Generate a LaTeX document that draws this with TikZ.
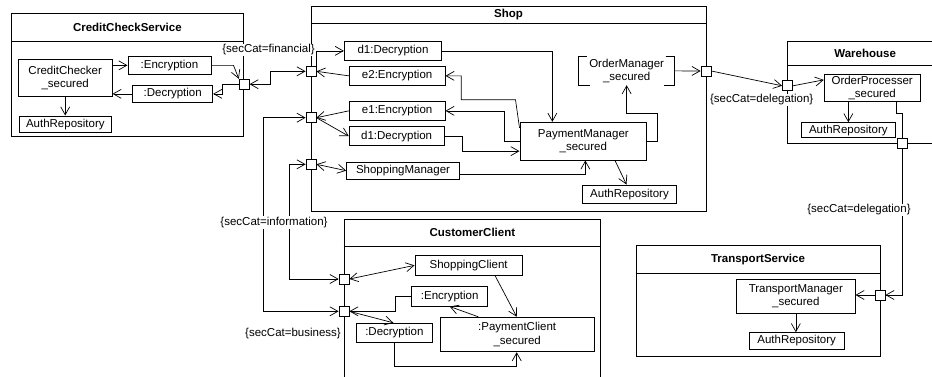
\documentclass[tikz,border=0pt]{standalone}
\usepackage{fontspec}
\setmainfont{Liberation Sans}
\usetikzlibrary{arrows.meta}
\begin{document}
\begin{tikzpicture}[x=1pt,y=-1pt,
  every node/.style={font=\fontsize{11.5}{13.5}\selectfont},
  comp/.style={draw, line width=1pt, inner sep=0pt, align=center},
  nobox/.style={inner sep=0pt, align=center},
  ctr/.style={draw, line width=1pt, inner sep=0pt},
  ttl/.style={font=\fontsize{11.5}{13.5}\selectfont\bfseries},
  port/.style={draw, fill=white, line width=0.8pt, minimum size=10pt, inner sep=0pt},
  lbl/.style={fill=white, inner sep=0.8pt},
  conn/.style={line width=0.7pt},
  boxline/.style={line width=1pt},
  arr/.style={conn, -{Straight Barb[length=8pt,width=9pt]}},
  dbl/.style={conn, {Straight Barb[length=8pt,width=9pt]}-{Straight Barb[length=8pt,width=9pt]}},
]
\useasboundingbox (0,0) rectangle (932,376);

% ---------- containers ----------
\node[ctr, minimum width=231.3pt, minimum height=123.4pt] (ccs) at (127.35,75) {};
\draw[boxline] ([yshift=-28.4pt]ccs.north west) -- ([yshift=-28.4pt]ccs.north east);
\node[ttl] (ccsT) at ([yshift=-14.2pt]ccs.north) {CreditCheckService};

\node[ctr, minimum width=395pt, minimum height=205pt] (shop) at (508.5,108.5) {};
\draw[boxline] ([yshift=-18pt]shop.north west) -- ([yshift=-18pt]shop.north east);
\node[ttl] (shopT) at ([yshift=-9pt]shop.north) {Shop};

\node[ctr, minimum width=155.7pt, minimum height=101.6pt] (wh) at (865.15,92.5) {};
\draw[boxline] ([yshift=-24.3pt]wh.north west) -- ([yshift=-24.3pt]wh.north east);
\node[ttl] (whT) at ([yshift=-12.4pt]wh.north) {Warehouse};

\node[ctr, minimum width=244pt, minimum height=110.3pt] (ts) at (758,300.85) {};
\draw[boxline] ([yshift=-28.6pt]ts.north west) -- ([yshift=-28.6pt]ts.north east);
\node[ttl] (tsT) at ([yshift=-14.3pt]ts.north) {TransportService};

\node[ctr, minimum width=256.7pt, minimum height=200.7pt] (cc) at (472.35,319.65) {};
\draw[boxline] ([yshift=-27.4pt]cc.north west) -- ([yshift=-27.4pt]cc.north east);
\node[ttl] (ccT) at ([yshift=-13.7pt]cc.north) {CustomerClient};

% ---------- CreditCheckService parts ----------
\node[comp, minimum width=93.7pt, minimum height=37.4pt] (chk) at (65.2,78) {CreditChecker\\\_secured};
\node[comp, minimum width=83pt, minimum height=17.3pt] (ccenc) at (169.5,65.35) {:Encryption};
\node[comp, minimum width=80pt, minimum height=17.7pt] (ccdec) at (172.7,93.85) {:Decryption};
\node[comp, minimum width=92.7pt, minimum height=16.3pt] (ccauth) at (65.35,124.15) {AuthRepository};

% ---------- Shop parts ----------
\node[comp, minimum width=97.4pt, minimum height=18.3pt] (d1a) at (393,50.85) {d1:Decryption};
\node[comp, minimum width=95.7pt, minimum height=18.3pt] (e2) at (397.15,75.85) {e2:Encryption};
\node[comp, minimum width=95.7pt, minimum height=18.3pt] (e1) at (397.15,110.85) {e1:Encryption};
\node[comp, minimum width=94.7pt, minimum height=19pt] (d1b) at (396.65,136.2) {d1:Decryption};
\node[comp, minimum width=112.6pt, minimum height=16.7pt] (sm) at (403,170.65) {ShoppingManager};
\node[comp, minimum width=126.7pt, minimum height=37.7pt] (pm) at (583.35,141.15) {PaymentManager\\\_secured};
\node[nobox, minimum width=95.3pt, minimum height=28.3pt] (om) at (626.65,70.85) {OrderManager\\\_secured};
\draw[boxline] ([xshift=8pt]om.north west) -- (om.north west) -- (om.south west) -- ([xshift=11pt]om.south west);
\draw[boxline] ([xshift=-9pt]om.north east) -- (om.north east) -- (om.south east) -- ([xshift=-11pt]om.south east);
\node[comp, minimum width=94.4pt, minimum height=18.3pt] (shauth) at (629.5,194.15) {AuthRepository};

% ---------- Warehouse parts ----------
\node[comp, minimum width=95.7pt, minimum height=27.7pt] (op) at (872.15,87.85) {OrderProcesser\\\_secured};
\node[comp, minimum width=93.3pt, minimum height=15pt] (whauth) at (848.35,130.2) {AuthRepository};

% ---------- TransportService parts ----------
\node[comp, minimum width=118.3pt, minimum height=34.3pt] (tm) at (795.85,296.15) {TransportManager\\\_secured};
\node[comp, minimum width=94.7pt, minimum height=16.6pt] (tsauth) at (796.65,341) {AuthRepository};

% ---------- CustomerClient parts ----------
\node[comp, minimum width=107.3pt, minimum height=19.3pt] (scl) at (468.65,265.35) {ShoppingClient};
\node[comp, minimum width=76pt, minimum height=19.3pt] (cenc) at (449.7,296.35) {:Encryption};
\node[comp, minimum width=76.7pt, minimum height=19.4pt] (cdec) at (394.35,333) {:Decryption};
\node[comp, minimum width=154.3pt, minimum height=34.4pt] (pc) at (517.15,334.5) {:PaymentClient\\\_secured};

% ---------- ports ----------
\node[port] (ccport) at (244.2,84.2) {};
\node[port] (sp1) at (311,71.3) {};
\node[port] (sp2) at (311,117.7) {};
\node[port] (sp3) at (311,164.3) {};
\node[port] (spr) at (706,71) {};
\node[port] (wp1) at (787.5,85.8) {};
\node[port] (wp2) at (902.7,143.3) {};
\node[port] (tp) at (880,295) {};
\node[port] (cpA) at (344,279) {};
\node[port] (cpB) at (344,311.3) {};

% ---------- connectors: CreditCheckService ----------
\draw[arr] (chk.south) -- (chk.south |- ccauth.north);
\draw[arr] (chk.east |- ccenc.west) -- (ccenc.west);
\draw[arr] (ccdec.west) -- (chk.east |- ccdec.west);
\draw[arr] (ccenc.east) -- ++(22,0) -- (ccport.north west);
\draw[arr] (ccport.west) -- ++(-16,0) |- (ccdec.east);
\draw[dbl] (ccport.east) -- ++(21,0) |- (sp1.west);

% ---------- connectors: Shop ----------
\draw[arr] (sp1.north east) |- (d1a.west);
\draw[arr] (e2.west) -- (sp1.east);
\draw[arr] (e1.west) -- (sp2.east);
\draw[arr] (sp2.east) -- (d1b.west);
\draw[dbl] (sp3.east) -- (sm.west);
\draw[arr] (d1a.east) -| ([xshift=-31pt]pm.north);
\draw[arr] ([yshift=-6pt]pm.north west) -- ++(-4,-28) -- ++(-54.3,0) |- (e2.east);
\draw[arr] (pm.west) -- ++(-15,0) |- (e1.east);
\draw[arr] (d1b.east) -- ++(17.7,0) |- ([yshift=-10pt]pm.west);
\draw[arr] ([yshift=-3.5pt]sm.east) -| ([xshift=2pt]pm.south);
\draw[arr] (pm.east) -- ++(10,0) -- ++(0,-27.85) -| (om.south);
\draw[arr] ([xshift=31.65pt]pm.south) -- ([xshift=-3pt]shauth.north);
\draw[arr] (om.east) -- (spr.west);
\draw[arr] (spr.east) -- (wp1.west);

% ---------- connectors: Warehouse / Transport ----------
\draw[arr] (wp1.east) -- ([yshift=8pt]op.west);
\draw[arr] (whauth.north |- op.south) -- (whauth.north);
\draw[conn] ([xshift=23.85pt]op.south) -- ++(0,11.6) -| (wp2.north);
\draw[arr] (wp2.south) |- (tp.east);
\draw[arr] (tp.west) -- (tm.east |- tp.west);
\draw[arr] (tm.south) -- (tm.south |- tsauth.north);

% ---------- connectors: Shop <-> CustomerClient ----------
\draw[dbl] (sp2.west) -- ++(-42.7,0) |- (cpB.west);
\draw[dbl] (sp3.west) -- ++(-16,0) |- (cpA.west);

% ---------- connectors: CustomerClient ----------
\draw[dbl] (cpA.east) -- (scl.west);
\draw[arr] (cenc.west) -- ++(-16,0) |- (cpB.east);
\draw[arr] (cpB.east) -- ([xshift=-1pt]cdec.north);
\draw[arr] ([xshift=26.35pt]scl.south) -- ([xshift=-0.45pt]pc.north);
\draw[arr] ([xshift=-38.85pt]pc.north) -- (cenc.south);
\draw[arr] (cdec.south) -- ++(0,23) -| ([xshift=-0.45pt]pc.south);

% ---------- labels ----------
\node[lbl] (lfin) at (268.5,50) {\{secCat=financial\}};
\node[lbl] (ldel1) at (761.7,100) {\{secCat=delegation\}};
\node[lbl] (linf) at (274,222.5) {\{secCat=information\}};
\node[lbl] (lbus) at (293,334) {\{secCat=business\}};
\node[lbl] (ldel2) at (859,210) {\{secCat=delegation\}};
\end{tikzpicture}
\end{document}
